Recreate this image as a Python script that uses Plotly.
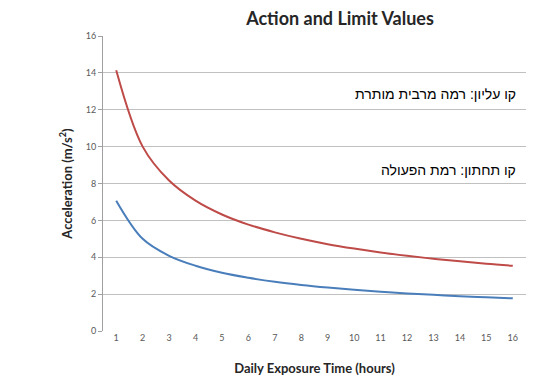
import plotly.graph_objects as go

hours = list(range(1, 17))
limit_values = [14.14, 10.0, 8.16, 7.07, 6.32, 5.77, 5.35, 5.0, 4.71, 4.47, 4.26, 4.08, 3.92, 3.78, 3.65, 3.54]
action_values = [7.07, 5.0, 4.08, 3.54, 3.16, 2.89, 2.67, 2.5, 2.36, 2.24, 2.13, 2.04, 1.96, 1.89, 1.83, 1.77]
y_ticks = [0, 2, 4, 6, 8, 10, 12, 14, 16]

fig = go.Figure()
fig.add_trace(go.Scatter(x=hours, y=limit_values, mode="lines",
                         line=dict(color="#BE4B48", width=2, shape="spline", smoothing=1.0),
                         showlegend=False))
fig.add_trace(go.Scatter(x=hours, y=action_values, mode="lines",
                         line=dict(color="#4A7EBB", width=2, shape="spline", smoothing=1.0),
                         showlegend=False))

fig.update_layout(
    width=550, height=387,
    margin=dict(l=95, r=32, t=28, b=64),
    paper_bgcolor="white", plot_bgcolor="white",
    font=dict(family="Lato, Open Sans, sans-serif", color="#595959"),
    title=dict(text="<b>Action and Limit Values</b>", xref="paper", x=(340 - 103) / 423, xanchor="center",
               yref="container", y=1 - 11 / 387, yanchor="middle",
               font=dict(size=18, color="#262626", family="Lato, Open Sans, sans-serif")),
)
fig.update_xaxes(
    range=[0.5, 16.5], tickmode="array", tickvals=hours, ticktext=[str(h) for h in hours],
    showgrid=False, zeroline=False, showline=False, ticks="",
    tickfont=dict(size=9, color="#595959"),
    title=dict(text="<b>Daily Exposure Time (hours)</b>", font=dict(size=13, color="#262626"), standoff=21),
)
fig.update_yaxes(
    range=[0, 16], tickmode="array", tickvals=y_ticks, ticktext=[str(v) for v in y_ticks],
    showgrid=True, gridcolor="#C0C0C0", gridwidth=1, zeroline=False,
    showline=True, linecolor="#A0A0A0", linewidth=1, ticks="outside", ticklen=4, tickcolor="#A0A0A0",
    tickfont=dict(size=9, color="#595959"),
    title=dict(text="<b>Acceleration (m/s<sup>2</sup>)</b>", font=dict(size=13, color="#262626"), standoff=10),
)
fig.add_annotation(text="קו עליון: רמה מרבית מותרת", xref="paper", yref="paper",
                   x=(518 - 103) / 423, y=(331 - 94) / 295, xanchor="right", yanchor="middle",
                   showarrow=False, bgcolor="white",
                   font=dict(size=14, color="black", family="Liberation Sans, Arial, sans-serif"))
fig.add_annotation(text="קו תחתון: רמת הפעולה", xref="paper", yref="paper",
                   x=(518 - 103) / 423, y=(331 - 170) / 295, xanchor="right", yanchor="middle",
                   showarrow=False, bgcolor="white",
                   font=dict(size=14, color="black", family="Liberation Sans, Arial, sans-serif"))

fig.write_html("out.html")
